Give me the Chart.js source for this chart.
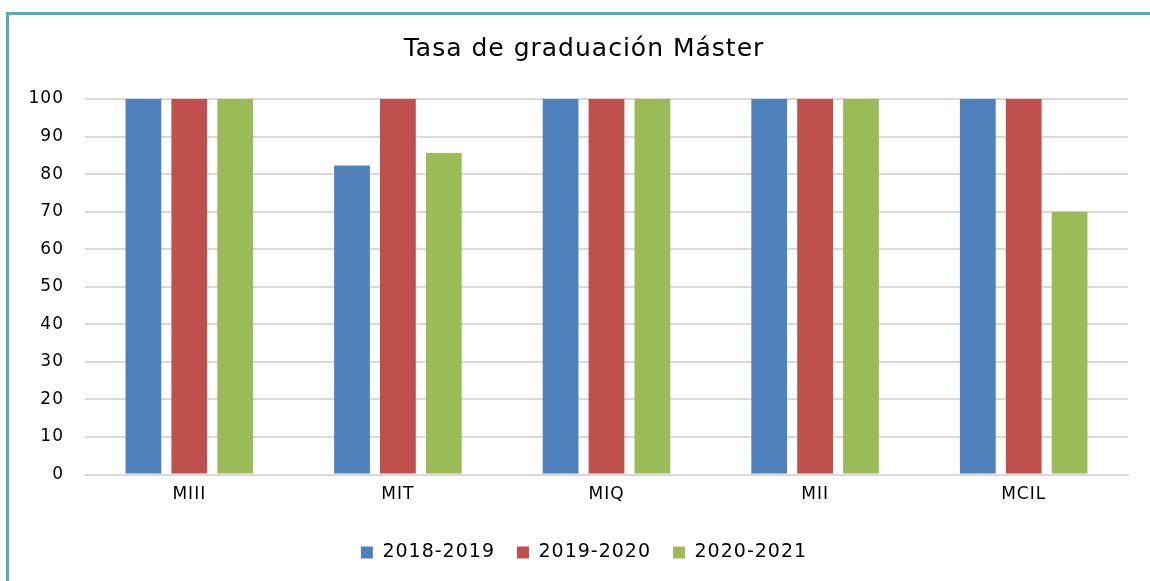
<!DOCTYPE html>
<html>
<head>
<meta charset="utf-8">
<script src="https://cdn.jsdelivr.net/npm/chart.js@4"></script>
<style>
  html, body { margin: 0; padding: 0; background: #fff; }
  #wrap { position: relative; width: 1150px; height: 581px; overflow: hidden; }
  #frame { position: absolute; left: 6px; top: 12px; width: 1200px; height: 700px;
           border-left: 3px solid #4bacc6; border-top: 3px solid #4bacc6; box-sizing: border-box; }
  canvas { position: absolute; left: 0; top: 0; }
</style>
</head>
<body>
<div id="wrap">
  <div id="frame"></div>
  <canvas id="grafico" width="1168" height="581"></canvas>
</div>
<script>
// Datos de la tasa de graduación por máster
const masters = ["MIII", "MIT", "MIQ", "MII", "MCIL"];
const curso1819 = [100, 82.3, 100, 100, 100];
const curso1920 = [100, 100, 100, 100, 100];
const curso2021 = [100, 85.6, 100, 100, 70];
const yTicks = [0, 10, 20, 30, 40, 50, 60, 70, 80, 90, 100];

const fuente = "'DejaVu Sans', sans-serif";
Chart.defaults.font.family = fuente;
Chart.defaults.color = "#000";

// letras un poco más separadas, como en el original
const espaciado = {
  id: "espaciado",
  beforeLayout(chart) { chart.ctx.letterSpacing = "1px"; },
  beforeDraw(chart) { chart.ctx.letterSpacing = "1px"; }
};

const ctx = document.getElementById("grafico").getContext("2d");
new Chart(ctx, {
  type: "bar",
  data: {
    labels: masters,
    datasets: [
      { label: "2018-2019", data: curso1819, backgroundColor: "#4f81bd" },
      { label: "2019-2020", data: curso1920, backgroundColor: "#c0504d" },
      { label: "2020-2021", data: curso2021, backgroundColor: "#9bbb59" }
    ]
  },
  plugins: [espaciado],
  options: {
    responsive: false,
    animation: false,
    layout: { padding: { left: 0, right: 0, top: 20, bottom: 9 } },
    datasets: { bar: { categoryPercentage: 0.66, barPercentage: 0.78 } },
    plugins: {
      title: {
        display: true,
        text: "Tasa de graduación Máster",
        font: { size: 25, weight: "normal" },
        color: "#000",
        padding: { top: 14, bottom: 35 }
      },
      legend: {
        position: "bottom",
        labels: { boxWidth: 12, boxHeight: 12, font: { size: 19 }, padding: 22, color: "#000" }
      },
      tooltip: { enabled: false }
    },
    scales: {
      x: {
        afterFit: s => { s.height += 6; },
        grid: { display: false, drawTicks: false },
        border: { color: "#d9d9d9", width: 2 },
        ticks: { font: { size: 17 }, padding: 10, color: "#000" }
      },
      y: {
        min: 0, max: 100,
        afterFit: s => { s.width = 85; },
        afterBuildTicks: s => { s.ticks = yTicks.map(v => ({ value: v })); },
        grid: { color: "#d9d9d9", lineWidth: 2, drawTicks: false },
        border: { display: false },
        ticks: { font: { size: 17 }, padding: 21, color: "#000" }
      },
      // eje vacío a la derecha, solo deja el margen
      yDer: {
        position: "right",
        min: 0, max: 100,
        afterFit: s => { s.width = 40; },
        grid: { display: false },
        border: { display: false },
        ticks: { display: false }
      }
    }
  }
});
</script>
</body>
</html>
